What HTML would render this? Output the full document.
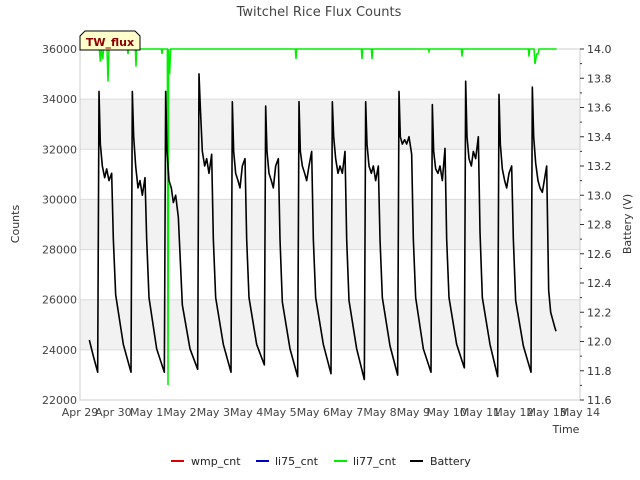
<!DOCTYPE html>
<html><head><meta charset="utf-8"><style>
body{margin:0;background:#fff;font-family:"DejaVu Sans","Liberation Sans",sans-serif}
svg{display:block}
text{font-family:"DejaVu Sans","Liberation Sans",sans-serif}
</style></head><body>
<svg id="chart" width="640" height="480" viewBox="0 0 640 480" xmlns="http://www.w3.org/2000/svg">
<text x="319" y="16" text-anchor="middle" font-size="13" fill="#444">Twitchel Rice Flux Counts</text>
<g id="bands"></g>
<g id="grid"></g>
<rect x="80" y="49" width="500" height="351" fill="none" stroke="#ccc"/>
<g id="axes"></g>
<g id="series"></g>
<text transform="translate(19,224) rotate(-90)" text-anchor="middle" font-size="11" fill="#333">Counts</text>
<text transform="translate(631,224) rotate(-90)" text-anchor="middle" font-size="11" fill="#333">Battery (V)</text>
<text x="566" y="433" text-anchor="middle" font-size="11" fill="#333">Time</text>
<g>
<polygon points="85,31 135,31 140,36 140,50 80,50 80,36" fill="#ffffcc" stroke="#000" stroke-width="1"/>
<text x="110" y="46" text-anchor="middle" font-size="11" font-weight="bold" fill="#8b0000">TW_flux</text>
</g>
<g font-size="11" fill="#222">
<g><line x1="171" y1="461" x2="184" y2="461" stroke="#dd0000" stroke-width="2"/><text x="191" y="465">wmp_cnt</text></g>
<g><line x1="256" y1="461" x2="269" y2="461" stroke="#0000cc" stroke-width="2"/><text x="275" y="465">li75_cnt</text></g>
<g><line x1="334" y1="461" x2="347" y2="461" stroke="#00ee00" stroke-width="2"/><text x="353" y="465">li77_cnt</text></g>
<g><line x1="410" y1="461" x2="423" y2="461" stroke="#000" stroke-width="2"/><text x="430" y="465">Battery</text></g>
</g>
</svg>
<script>
const xTickLabels=["Apr 29","Apr 30","May 1","May 2","May 3","May 4","May 5","May 6","May 7","May 8","May 9","May 10","May 11","May 12","May 13","May 14"];
const yTicks=[22000,24000,26000,28000,30000,32000,34000,36000];
const y2Ticks=[11.6,11.8,12.0,12.2,12.4,12.6,12.8,13.0,13.2,13.4,13.6,13.8,14.0];
// battery: days since Apr 29, value in volts
const batDays=[0.28,0.4,0.53,
0.57,0.61,0.67,0.74,0.8,0.87,0.95,1.0,1.07,1.3,1.53,
1.57,1.61,1.67,1.74,1.8,1.87,1.95,2.0,2.07,2.3,2.53,
2.57,2.61,2.67,2.74,2.8,2.87,2.95,3.0,3.07,3.3,3.53,
3.57,3.61,3.67,3.74,3.8,3.87,3.95,4.0,4.07,4.3,4.53,
4.57,4.61,4.67,4.74,4.8,4.87,4.95,5.0,5.07,5.3,5.53,
5.57,5.61,5.67,5.74,5.8,5.87,5.95,6.0,6.07,6.3,6.53,
6.57,6.61,6.67,6.74,6.8,6.87,6.95,7.0,7.07,7.3,7.53,
7.57,7.61,7.67,7.74,7.8,7.87,7.95,8.0,8.07,8.3,8.53,
8.57,8.61,8.67,8.74,8.8,8.87,8.95,9.0,9.07,9.3,9.53,
9.57,9.61,9.67,9.74,9.8,9.87,9.95,10.0,10.07,10.3,10.53,
10.57,10.61,10.67,10.74,10.8,10.87,10.95,11.0,11.07,11.3,11.53,
11.57,11.61,11.67,11.74,11.8,11.87,11.95,12.0,12.07,12.3,12.53,
12.57,12.61,12.67,12.74,12.8,12.87,12.95,13.0,13.07,13.3,13.53,
13.57,13.61,13.67,13.74,13.8,13.87,14.0,14.06,14.12,14.18,14.24,14.28];
const batVolts=[12.01,11.9,11.79,
13.71,13.35,13.2,13.12,13.18,13.1,13.15,12.7,12.32,11.98,11.79,
13.71,13.4,13.2,13.05,13.1,13.0,13.12,12.7,12.3,11.95,11.79,
13.71,13.3,13.1,13.05,12.95,13.0,12.85,12.6,12.25,11.95,11.81,
13.83,13.6,13.3,13.2,13.25,13.15,13.28,12.7,12.3,11.98,11.79,
13.64,13.3,13.15,13.1,13.05,13.2,13.25,12.7,12.3,11.98,11.84,
13.61,13.3,13.15,13.1,13.05,13.2,13.25,12.7,12.27,11.95,11.76,
13.64,13.3,13.2,13.15,13.1,13.2,13.3,12.7,12.3,11.98,11.78,
13.64,13.4,13.25,13.15,13.2,13.15,13.3,12.7,12.28,11.95,11.74,
13.64,13.35,13.2,13.15,13.2,13.1,13.2,12.7,12.3,11.97,11.77,
13.71,13.4,13.35,13.38,13.35,13.4,13.28,12.7,12.3,11.95,11.79,
13.62,13.3,13.18,13.15,13.2,13.1,13.32,12.7,12.3,11.98,11.82,
13.78,13.4,13.25,13.2,13.3,13.25,13.4,12.75,12.3,11.98,11.76,
13.69,13.35,13.18,13.1,13.05,13.15,13.2,12.7,12.28,11.97,11.79,
13.74,13.4,13.22,13.1,13.05,13.02,13.2,12.35,12.2,12.15,12.1,12.07];
// li77 counts: days, value
const li77Days=[0,0.58,0.61,0.64,0.68,0.71,0.74,0.81,0.84,0.87,1.42,1.44,1.46,1.66,1.68,1.7,2.44,2.46,2.48,2.62,2.64,2.66,2.69,2.72,6.46,6.48,6.5,8.44,8.46,8.48,8.74,8.76,8.78,10.45,10.47,10.49,11.44,11.46,11.48,13.45,13.47,13.49,13.62,13.65,13.7,13.74,13.77,14.3];
const li77Vals=[36000,36000,35500,36000,35600,36000,36000,36000,34700,36000,36000,35800,36000,36000,35300,36000,36000,35800,36000,36000,22600,36000,35000,36000,36000,35600,36000,36000,35600,36000,36000,35600,36000,36000,35900,36000,36000,35700,36000,36000,35700,36000,36000,35400,35800,35800,36000,36000];
</script>
<script>
const NS="http://www.w3.org/2000/svg";
const X0=80,X1=580,Y0=400,Y1=49;
const xDay=d=>X0+d*(X1-X0)/15;
const yCnt=v=>Y0-(v-22000)/14000*(Y0-Y1);
const yVolt=v=>Y0-(v-11.6)/2.4*(Y0-Y1);
function mk(tag,attrs,parent){const e=document.createElementNS(NS,tag);for(const k in attrs)e.setAttribute(k,attrs[k]);parent.appendChild(e);return e;}
const bands=document.getElementById('bands'),grid=document.getElementById('grid'),axes=document.getElementById('axes'),series=document.getElementById('series');
for(let i=0;i<yTicks.length-1;i++){
  if(i%2===1){const r=mk('rect',{x:X0,y:yCnt(yTicks[i+1]),width:X1-X0,height:yCnt(yTicks[i])-yCnt(yTicks[i+1]),fill:'#f2f2f2'},bands);
  
  }
}
yTicks.forEach(v=>{
  const l=mk('line',{x1:X0,x2:X1,y1:yCnt(v),y2:yCnt(v),stroke:'#dcdcdc'},grid);
  
  
  const t=mk('text',{x:X0-3,y:yCnt(v)+4,'text-anchor':'end','font-size':'11',fill:'#444'},axes);t.textContent=v;
  
  
});
y2Ticks.forEach((v,i)=>{
  const y=yVolt(v);
  const l=mk('line',{x1:X1,x2:X1+4,y1:y,y2:y,stroke:'#333'},axes);
  
  
  if(i<y2Ticks.length-1){const m=mk('line',{x1:X1,x2:X1+2,y1:(y+yVolt(y2Ticks[i+1]))/2,y2:(y+yVolt(y2Ticks[i+1]))/2,stroke:'#333'},axes);
  
  }
  const t=mk('text',{x:X1+7,y:y+4,'font-size':'11',fill:'#333'},axes);t.textContent=v.toFixed(1);
  
  
});
xTickLabels.forEach((s,i)=>{
  const t=mk('text',{x:xDay(i),y:416,'text-anchor':'middle','font-size':'11',fill:'#444'},axes);t.textContent=s;
  
  
});
const lp=mk('polyline',{points:li77Days.map((d,i)=>xDay(d)+','+yCnt(li77Vals[i])).join(' '),fill:'none',stroke:'#00ee00','stroke-width':'1.5'},series);


const bp=mk('polyline',{points:batDays.map((d,i)=>xDay(d)+','+yVolt(batVolts[i])).join(' '),fill:'none',stroke:'#000','stroke-width':'1.6','stroke-linejoin':'round'},series);


</script>
</body></html>
